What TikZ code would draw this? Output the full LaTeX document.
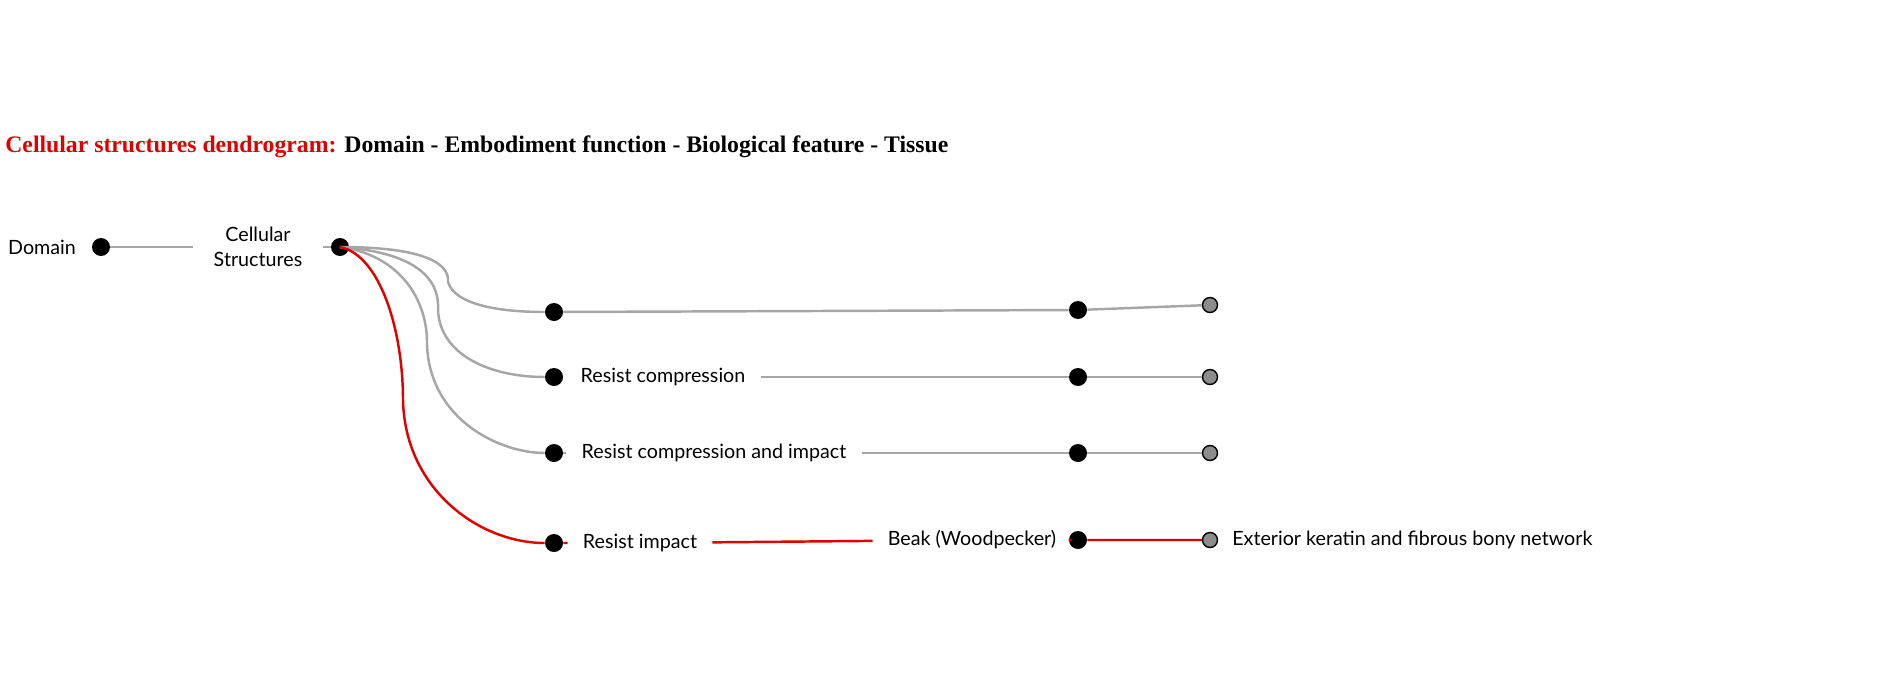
\documentclass[tikz,border=0pt]{standalone}
\usepackage{fontspec}
\setmainfont{Liberation Serif}
\newfontfamily\labelfont{Lato}
\usetikzlibrary{positioning}
\definecolor{linegray}{HTML}{A6A6A6}
\definecolor{linered}{HTML}{E00000}
\definecolor{endgray}{HTML}{8C8C8C}
\tikzset{
  dot/.style={circle, fill=black, inner sep=0pt, minimum size=0.36cm},
  enddot/.style={circle, fill=endgray, draw=black, line width=0.8pt, inner sep=0pt, minimum size=0.30cm},
  lbl/.style={font=\labelfont\fontsize{11.2}{14}\selectfont, inner xsep=0.3cm, inner ysep=0pt, align=center},
  gline/.style={draw=linegray, line width=1.4pt},
  rline/.style={draw=linered, line width=1.4pt}
}
\begin{document}
\begin{tikzpicture}[x=0.02cm, y=-0.02cm]
    \useasboundingbox (0,0) rectangle (1886,690);
    %title
    \node (title) [anchor=west, font=\bfseries\fontsize{13.5}{16}\selectfont, inner sep=0pt] at (5,147) {\textcolor{linered}{Cellular structures dendrogram:} Domain - Embodiment function - Biological feature - Tissue};
    %domain and root
    \node (domain) [lbl] at (42,247) {Domain};
    \node (d0) [dot] at (101,247) {};
    \node (cell) [lbl] at (258,247) {Cellular\\Structures};
    \node (c0) [dot] at (340,247) {};
    \coordinate (cellend) at (193,247);
    \coordinate (cellstart) at (323,247);
    \draw [gline] (d0) -- (cellend);
    \draw [gline] (cellstart) -- (c0);
    %second level
    \node (f1) [dot] at (554,312) {};
    \node (f2) [dot] at (554,377) {};
    \node (f3) [dot] at (554,453) {};
    \node (f4) [dot] at (554,543) {};
    \node (l2) [lbl] at (663,377) {Resist compression};
    \node (l3) [lbl] at (714,453) {Resist compression and impact};
    \node (l4) [lbl] at (640,543) {Resist impact};
    %third level
    \node (b1) [dot] at (1078,310) {};
    \node (b2) [dot] at (1078,377) {};
    \node (b3) [dot] at (1078,453) {};
    \node (b4) [dot] at (1078,540) {};
    \node (beak) [lbl] at (972,540) {Beak (Woodpecker)};
    %tissue level
    \node (t1) [enddot] at (1210,305) {};
    \node (t2) [enddot] at (1210,377) {};
    \node (t3) [enddot] at (1210,453) {};
    \node (t4) [enddot] at (1210,540) {};
    \node (tissue) [lbl, anchor=west] at (1217,540) {Exterior keratin and fibrous bony network};
    %branches from the root
    \draw [gline] (c0.center) .. controls (420,247) and (450,262) .. (448,282) .. controls (455,305) and (500,312) .. (f1);
    \draw [gline] (c0.center) .. controls (410,252) and (440,275) .. (438,310) .. controls (440,355) and (490,377) .. (f2);
    \draw [gline] (c0.center) .. controls (400,255) and (428,300) .. (427,345) .. controls (430,420) and (500,453) .. (f3);
    \draw [rline] (c0.center) .. controls (380,255) and (403,330) .. (403,400) .. controls (405,490) and (480,543) .. (f4);
    %rows
    \draw [gline] (f1) -- (b1) -- (t1);
    \draw [gline] (l2) -- (b2) -- (t2);
    \draw [gline] (f3) -- (l3) -- (b3) -- (t3);
    \draw [rline] (f4) -- (l4) -- (beak) -- (b4) -- (t4);
\end{tikzpicture}
\end{document}
